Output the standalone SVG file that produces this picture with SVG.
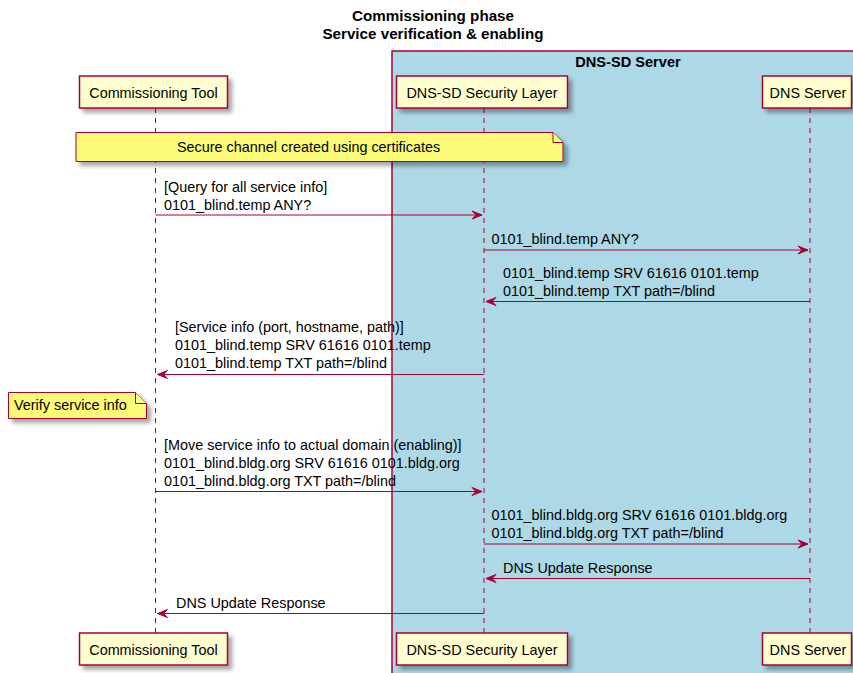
<svg xmlns="http://www.w3.org/2000/svg" width="853" height="673" viewBox="0 0 853 673">
<style>
text{font-family:"Liberation Sans",Arial,sans-serif;font-size:14.4px;fill:#000}
.title{font-weight:bold;font-size:15.2px;text-anchor:middle}
.bl{font-weight:bold;font-size:14.6px;text-anchor:middle}
.part{fill:#FEFECE;stroke:#A80036;stroke-width:1.5}
.note{fill:#FBFB77;stroke:#A80036;stroke-width:1}
.life{stroke:#A80036;stroke-width:1;stroke-dasharray:5,5;fill:none}
.msg{stroke:#A80036;stroke-width:1;fill:none}
.head{fill:#A80036;stroke:#A80036;stroke-width:1}
.c{text-anchor:middle}
</style>
<defs>
<filter id="sh" x="-10%" y="-20%" width="130%" height="160%">
<feDropShadow dx="4" dy="4" stdDeviation="2" flood-color="#000" flood-opacity="0.35"/>
</filter>
</defs>
<rect width="853" height="673" fill="#fff"/>
<g id="title">
<text class="title" x="433" y="21">Commissioning phase</text>
<text class="title" x="433" y="39">Service verification &amp; enabling</text>
</g>
<g id="box-dns-sd-server">
<rect x="392" y="51" width="470" height="630" fill="#ADD8E6" stroke="#A80036" stroke-width="1.5"/>
<text class="bl" x="628" y="67">DNS-SD Server</text>
</g>
<g id="lifelines">
<line class="life" x1="155.5" y1="108" x2="155.5" y2="633"/>
<line class="life" x1="484" y1="108" x2="484" y2="633"/>
<line class="life" x1="810" y1="108" x2="810" y2="633"/>
</g>
<g id="commissioning-tool">
<rect class="part" filter="url(#sh)" x="79.5" y="76" width="148" height="32"/>
<text class="c" x="153.5" y="98">Commissioning Tool</text>
<rect class="part" filter="url(#sh)" x="79.5" y="633" width="148" height="32"/>
<text class="c" x="153.5" y="655">Commissioning Tool</text>
</g>
<g id="dns-sd-security-layer">
<rect class="part" filter="url(#sh)" x="396.5" y="76" width="171" height="32"/>
<text class="c" x="482" y="98">DNS-SD Security Layer</text>
<rect class="part" filter="url(#sh)" x="396.5" y="633" width="171" height="32"/>
<text class="c" x="482" y="655">DNS-SD Security Layer</text>
</g>
<g id="dns-server">
<rect class="part" filter="url(#sh)" x="762.5" y="76" width="89" height="32"/>
<text class="c" x="808" y="98">DNS Server</text>
<rect class="part" filter="url(#sh)" x="762.5" y="633" width="89" height="32"/>
<text class="c" x="808" y="655">DNS Server</text>
</g>
<g id="note-secure-channel">
<path class="note" filter="url(#sh)" d="M76,132.5 L553,132.5 L563,142.5 L563,161.5 L76,161.5 Z"/>
<path class="note" d="M553,132.5 L553,142.5 L563,142.5"/>
<text x="177" y="152">Secure channel created using certificates</text>
</g>
<g id="note-verify">
<path class="note" filter="url(#sh)" d="M8.5,392.5 L135.5,392.5 L146.5,403.5 L146.5,418.5 L8.5,418.5 Z"/>
<path class="note" d="M135.5,392.5 L135.5,403.5 L146.5,403.5"/>
<text x="14" y="410">Verify service info</text>
</g>
<g id="connectors">
<line class="msg" x1="155.5" y1="215" x2="482" y2="215"/>
<polygon class="head" points="472,211 482,215 472,219 476,215"/>
<text x="164" y="192">[Query for all service info]</text>
<text x="164" y="209.5">0101_blind.temp ANY?</text>

<line class="msg" x1="484" y1="250" x2="808" y2="250"/>
<polygon class="head" points="798,246 808,250 798,254 802,250"/>
<text x="491.5" y="244">0101_blind.temp ANY?</text>

<line class="msg" x1="486" y1="301.5" x2="810" y2="301.5"/>
<polygon class="head" points="496,297.5 486,301.5 496,305.5 492,301.5"/>
<text x="503" y="278">0101_blind.temp SRV 61616 0101.temp</text>
<text x="503" y="296">0101_blind.temp TXT path=/blind</text>

<line class="msg" x1="157.5" y1="374.5" x2="484" y2="374.5"/>
<polygon class="head" points="167.5,370.5 157.5,374.5 167.5,378.5 163.5,374.5"/>
<text x="175" y="332">[Service info (port, hostname, path)]</text>
<text x="175" y="350">0101_blind.temp SRV 61616 0101.temp</text>
<text x="175" y="367.5">0101_blind.temp TXT path=/blind</text>

<line class="msg" x1="155.5" y1="491.5" x2="482" y2="491.5"/>
<polygon class="head" points="472,487.5 482,491.5 472,495.5 476,491.5"/>
<text x="164" y="449.5">[Move service info to actual domain (enabling)]</text>
<text x="164" y="468">0101_blind.bldg.org SRV 61616 0101.bldg.org</text>
<text x="164" y="486">0101_blind.bldg.org TXT path=/blind</text>

<line class="msg" x1="484" y1="544" x2="808" y2="544"/>
<polygon class="head" points="798,540 808,544 798,548 802,544"/>
<text x="491.5" y="520">0101_blind.bldg.org SRV 61616 0101.bldg.org</text>
<text x="491.5" y="538">0101_blind.bldg.org TXT path=/blind</text>

<line class="msg" x1="486" y1="578.5" x2="810" y2="578.5"/>
<polygon class="head" points="496,574.5 486,578.5 496,582.5 492,578.5"/>
<text x="503" y="573">DNS Update Response</text>

<line class="msg" x1="157.5" y1="613.5" x2="484" y2="613.5"/>
<polygon class="head" points="167.5,609.5 157.5,613.5 167.5,617.5 163.5,613.5"/>
<text x="176" y="607.5">DNS Update Response</text>
</g>
</svg>
